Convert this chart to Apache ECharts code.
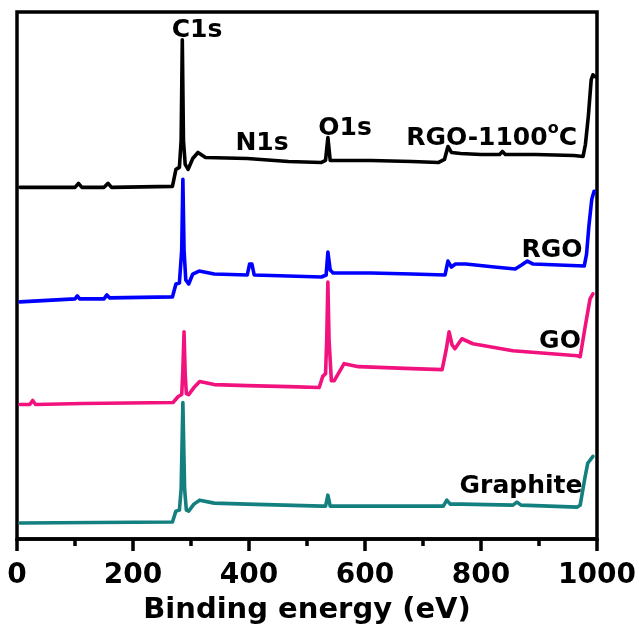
<!DOCTYPE html>
<html><head><meta charset="utf-8">
<script src="https://cdn.jsdelivr.net/npm/echarts@6/dist/echarts.min.js"></script>
<style>html,body{margin:0;padding:0;background:#fff}#c{width:640px;height:630px}</style>
</head><body><div id="c"></div>
<script>
// Binding energy (eV) and offset intensity (a.u.)
const rgo1100Energy = [5, 100, 106, 112, 150, 157, 163, 268, 274, 280, 283, 285, 287, 290, 295, 303, 312, 325, 397, 468, 525, 532, 536, 540, 546, 610, 681, 727, 737, 743, 749, 765, 800, 832, 837, 842, 894, 960, 976, 980, 985, 990, 993, 997];
const rgo1100Counts = [353, 353, 357, 353, 353, 357, 353, 354, 371, 373, 400, 501, 400, 376, 371, 382, 388, 383, 382, 379, 378, 380, 403, 380, 380, 380, 379, 378, 381, 394, 388, 387, 386, 386, 389, 386, 386, 385, 384, 396, 424, 461, 466, 464];

const rgoEnergy = [5, 100, 104, 108, 150, 155, 160, 268, 274, 280, 284, 286, 288, 291, 296, 303, 314, 340, 397, 401, 405, 409, 525, 533, 536, 540, 545, 610, 681, 738, 743, 749, 756, 774, 823, 859, 870, 880, 890, 978, 982, 986, 991, 995];
const rgoCounts = [238, 241, 244, 241, 241, 245, 242, 243, 256, 257, 290, 361, 290, 260, 256, 266, 269, 266, 265, 276, 276, 265, 263, 265, 288, 270, 267, 267, 266, 265, 279, 273, 276, 276, 273, 271, 275, 279, 276, 274, 286, 314, 341, 349];

const goEnergy = [5, 22, 27, 32, 113, 269, 278, 284, 286, 288, 290, 292, 296, 305, 315, 340, 397, 468, 521, 527, 532, 534, 536, 538, 542, 547, 556, 564, 589, 681, 733, 740, 745, 750, 755, 767, 786, 855, 966, 971, 979, 988, 993];
const goCounts = [135, 135, 139, 135, 136, 137, 143, 145, 170, 208, 165, 146, 145, 152, 158, 155, 154, 153, 152, 163, 166, 200, 258, 200, 159, 159, 168, 176, 173, 171, 170, 190, 208, 195, 191, 201, 196, 189, 184, 183, 211, 241, 246];

const graphiteEnergy = [5, 268, 274, 280, 283, 286, 289, 292, 296, 305, 315, 340, 397, 525, 532, 536, 540, 712, 735, 741, 747, 766, 855, 862, 869, 966, 971, 979, 984, 993];
const graphiteCounts = [16, 17, 28, 29, 50, 137, 50, 29, 28, 35, 39, 36, 35, 33, 33, 44, 33, 33, 33, 39, 35, 35, 34, 37, 34, 32, 34, 61, 76, 83];

const seriesNames = ['RGO-1100°C', 'RGO', 'GO', 'Graphite'];
const seriesColors = ['#000000', '#0000ff', '#f2127e', '#137f7f'];
const xTickValues = [0, 200, 400, 600, 800, 1000];

const zip = (xs, ys) => xs.map((x, i) => [x, ys[i]]);
const allData = [zip(rgo1100Energy, rgo1100Counts), zip(rgoEnergy, rgoCounts), zip(goEnergy, goCounts), zip(graphiteEnergy, graphiteCounts)];

const FONT = 'DejaVu Sans';
const chart = echarts.init(document.getElementById('c'), null, {renderer: 'canvas'});
const lbl = (text, x, y, extra) => Object.assign({
  type: 'text', x: x, y: y, z: 10,
  style: {text: text, fill: '#000', font: 'bold 25px "' + FONT + '"', align: 'center', verticalAlign: 'middle'}
}, extra || {});

chart.setOption({
  animation: false,
  backgroundColor: '#fff',
  grid: {left: 17, right: 43, top: 12, bottom: 89, show: true, borderColor: '#000', borderWidth: 3.5, backgroundColor: 'transparent'},
  xAxis: {
    type: 'value', min: 0, max: 1000, interval: 200,
    axisLine: {show: true, lineStyle: {color: '#000', width: 3.5}},
    axisTick: {show: true, length: 12, lineStyle: {color: '#000', width: 3.5}},
    minorTick: {show: true, splitNumber: 2, length: 7, lineStyle: {color: '#000', width: 3.5}},
    splitLine: {show: false},
    axisLabel: {color: '#000', fontFamily: FONT, fontWeight: 'bold', fontSize: 28, margin: 23,
      formatter: v => xTickValues.includes(v) ? String(v) : ''},
    name: 'Binding energy (eV)', nameLocation: 'middle', nameGap: 57,
    nameTextStyle: {color: '#000', fontFamily: FONT, fontWeight: 'bold', fontSize: 29}
  },
  yAxis: {
    type: 'value', min: 0, max: 529,
    axisLine: {show: false}, axisTick: {show: false}, axisLabel: {show: false}, splitLine: {show: false}
  },
  series: allData.map((d, i) => ({
    name: seriesNames[i], type: 'line', data: d, showSymbol: false, symbol: 'none',
    lineStyle: {color: seriesColors[i], width: 3.6, join: 'round', cap: 'round'},
    itemStyle: {color: seriesColors[i]}
  })),
  graphic: [
    lbl('C1s', 197, 30),
    lbl('N1s', 262, 143),
    lbl('O1s', 345, 128),
    {type: 'text', x: 577, y: 138, z: 10, style: {
      text: 'RGO-1100{sup|o}C', fill: '#000', font: 'bold 25px "' + FONT + '"', align: 'right', verticalAlign: 'middle',
      rich: {sup: {fontSize: 16, fontWeight: 'bold', fontFamily: FONT, verticalAlign: 'top', padding: [0, 0, 18, 0]}}
    }},
    lbl('RGO', 552, 250),
    lbl('GO', 560, 341),
    lbl('Graphite', 521, 486)
  ]
});
</script></body></html>
